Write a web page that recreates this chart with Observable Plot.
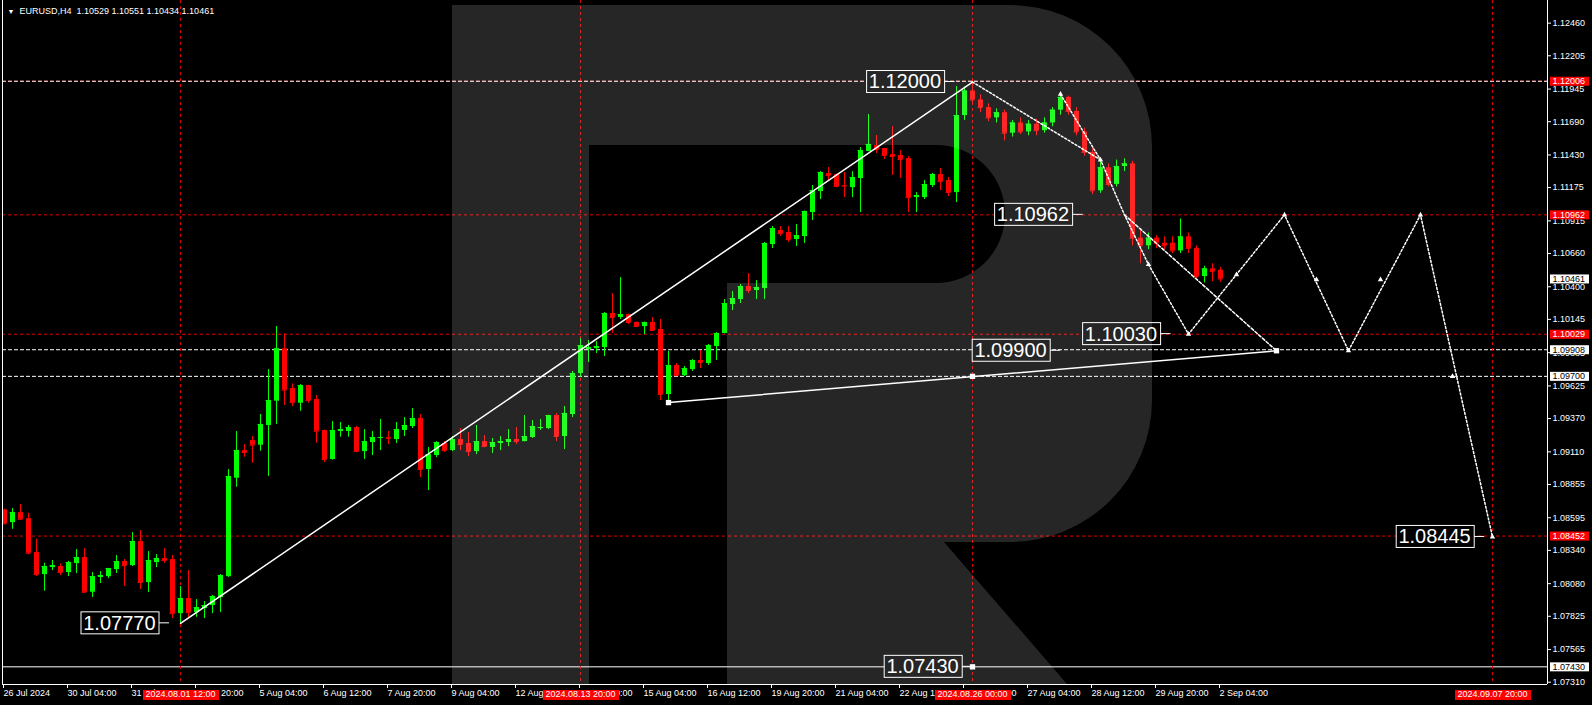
<!DOCTYPE html>
<html><head><meta charset="utf-8">
<script src="https://cdn.jsdelivr.net/npm/d3@7"></script>
<script src="https://cdn.jsdelivr.net/npm/@observablehq/plot@0.6"></script>
<style>
html,body{margin:0;padding:0;background:#000;overflow:hidden;}
#chart svg{display:block}
</style></head><body><div id="chart"></div>
<script>
// ---- candle data (EURUSD H4), index 0 = 26 Jul 2024 20:00 ----
const opens = [
1.08656,1.08557,1.08635,1.08588,1.08323,1.08151,1.08206,1.08214,1.08167,1.08237,
1.08284,1.08013,1.08128,1.08135,1.08190,1.08253,1.08221,1.08409,1.08089,1.08245,
1.08276,1.08268,1.07846,1.07964,1.07854,1.07886,1.07909,1.07972,1.08135,1.08904,
1.09120,1.09198,1.09162,1.09316,1.09506,1.09915,1.09605,1.09490,1.09628,1.09519,
1.09277,1.09050,1.09269,1.09269,1.09300,1.09112,1.09183,1.09216,1.09222,1.09206,
1.09277,1.09308,1.09370,1.08972,1.09081,1.09175,1.09120,1.09206,1.09175,1.09112,
1.09190,1.09144,1.09175,1.09183,1.09206,1.09190,1.09222,1.09292,1.09292,1.09394,
1.09230,1.09402,1.09722,1.09910,1.09917,1.09925,1.10191,1.10160,1.10183,1.10121,
1.10089,1.10121,1.10066,1.09558,1.09785,1.09706,1.09753,1.09824,1.09800,1.09933,
1.10035,1.10261,1.10300,1.10402,1.10371,1.10386,1.10730,1.10840,1.10824,1.10769,
1.10793,1.10980,1.11144,1.11285,1.11277,1.11191,1.11175,1.11246,1.11457,1.11504,
1.11480,1.11433,1.11426,1.11402,1.11097,1.11097,1.11191,1.11277,1.11230,1.11136,
1.11738,1.11930,1.11860,1.11800,1.11720,1.11760,1.11600,1.11680,1.11610,1.11670,
1.11620,1.11680,1.11780,1.11880,1.11770,1.11610,1.11450,1.11150,1.11330,1.11200,
1.11340,1.11360,1.10780,1.10720,1.10780,1.10740,1.10740,1.10680,1.10790,1.10700,
1.10480,1.10540,1.10529];
const highs = [
1.08662,1.08667,1.08698,1.08630,1.08427,1.08240,1.08261,1.08235,1.08255,1.08347,
1.08354,1.08167,1.08174,1.08200,1.08300,1.08268,1.08479,1.08495,1.08331,1.08307,
1.08354,1.08300,1.08057,1.08182,1.07956,1.07940,1.07987,1.08151,1.08972,1.09269,
1.09167,1.09230,1.09402,1.09753,1.10089,1.10032,1.09642,1.09636,1.09630,1.09550,
1.09280,1.09347,1.09339,1.09316,1.09308,1.09284,1.09269,1.09363,1.09269,1.09339,
1.09378,1.09449,1.09402,1.09144,1.09190,1.09190,1.09230,1.09292,1.09261,1.09316,
1.09237,1.09214,1.09230,1.09284,1.09300,1.09394,1.09355,1.09363,1.09396,1.09410,
1.09464,1.09738,1.09995,1.09980,1.09972,1.10199,1.10347,1.10472,1.10186,1.10124,
1.10124,1.10160,1.10144,1.09894,1.09800,1.09777,1.09831,1.09902,1.09949,1.10042,
1.10300,1.10363,1.10418,1.10504,1.10449,1.10746,1.10871,1.10871,1.10871,1.10886,
1.10992,1.11191,1.11300,1.11332,1.11280,1.11293,1.11300,1.11488,1.11746,1.11582,
1.11482,1.11652,1.11465,1.11418,1.11136,1.11230,1.11285,1.11324,1.11254,1.11965,
1.11960,1.12006,1.11900,1.11830,1.11790,1.11780,1.11700,1.11720,1.11700,1.11710,
1.11720,1.11800,1.11905,1.11890,1.11800,1.11640,1.11480,1.11400,1.11360,1.11390,
1.11400,1.11380,1.10850,1.10820,1.10800,1.10790,1.10790,1.10930,1.10820,1.10720,
1.10560,1.10580,1.10551];
const lows = [
1.08545,1.08505,1.08579,1.08307,1.08135,1.08021,1.08182,1.08143,1.08135,1.08159,
1.08010,1.07972,1.08081,1.08120,1.08159,1.08057,1.08214,1.08034,1.08010,1.08206,
1.08237,1.07807,1.07770,1.07815,1.07817,1.07807,1.07846,1.07854,1.08128,1.08833,
1.09068,1.09021,1.09115,1.08919,1.09324,1.09472,1.09464,1.09427,1.09490,1.09177,
1.09026,1.09045,1.09224,1.09224,1.09105,1.09050,1.09081,1.09120,1.09167,1.09175,
1.09230,1.09292,1.08909,1.08808,1.09065,1.09105,1.09112,1.09120,1.09073,1.09089,
1.09144,1.09097,1.09120,1.09151,1.09167,1.09188,1.09214,1.09277,1.09284,1.09190,
1.09128,1.09378,1.09691,1.09808,1.09878,1.09855,1.10035,1.10144,1.10105,1.10086,
1.10027,1.10050,1.09511,1.09490,1.09698,1.09698,1.09738,1.09761,1.09785,1.09824,
1.10032,1.10214,1.10269,1.10347,1.10300,1.10300,1.10699,1.10793,1.10746,1.10715,
1.10738,1.10918,1.11082,1.11230,1.11180,1.11097,1.11097,1.10980,1.11455,1.11441,
1.11394,1.11269,1.11246,1.10980,1.10980,1.11082,1.11175,1.11152,1.11105,1.11058,
1.11700,1.11830,1.11760,1.11690,1.11680,1.11540,1.11570,1.11590,1.11580,1.11580,
1.11600,1.11650,1.11740,1.11740,1.11580,1.11420,1.11120,1.11130,1.11180,1.11180,
1.11300,1.10720,1.10580,1.10690,1.10700,1.10690,1.10660,1.10660,1.10660,1.10460,
1.10430,1.10440,1.10434];
const closes = [
1.08547,1.08635,1.08583,1.08318,1.08151,1.08214,1.08221,1.08167,1.08245,1.08284,
1.08013,1.08135,1.08143,1.08198,1.08253,1.08221,1.08409,1.08089,1.08261,1.08276,
1.08261,1.07846,1.07964,1.07854,1.07893,1.07909,1.07979,1.08143,1.08917,1.09120,
1.09105,1.09162,1.09324,1.09511,1.09915,1.09592,1.09495,1.09628,1.09511,1.09271,
1.09050,1.09277,1.09284,1.09300,1.09112,1.09190,1.09222,1.09222,1.09216,1.09284,
1.09316,1.09370,1.08972,1.09089,1.09183,1.09120,1.09206,1.09167,1.09112,1.09190,
1.09151,1.09183,1.09190,1.09206,1.09190,1.09230,1.09308,1.09300,1.09394,1.09230,
1.09410,1.09722,1.09941,1.09925,1.09933,1.10191,1.10160,1.10183,1.10121,1.10089,
1.10121,1.10058,1.09558,1.09785,1.09706,1.09761,1.09824,1.09808,1.09941,1.10035,
1.10269,1.10308,1.10402,1.10371,1.10394,1.10738,1.10855,1.10816,1.10769,1.10800,
1.10988,1.11152,1.11293,1.11269,1.11183,1.11187,1.11254,1.11465,1.11512,1.11473,
1.11426,1.11418,1.11394,1.11097,1.11113,1.11199,1.11277,1.11222,1.11136,1.11738,
1.11930,1.11860,1.11800,1.11720,1.11760,1.11600,1.11680,1.11610,1.11670,1.11620,
1.11680,1.11780,1.11880,1.11770,1.11610,1.11450,1.11150,1.11330,1.11200,1.11340,
1.11360,1.10780,1.10720,1.10780,1.10740,1.10720,1.10680,1.10790,1.10700,1.10480,
1.10540,1.10520,1.10461];

// ---- axes ----
const xTickIdx = [0,8,16,24,32,40,48,56,64,72,80,88,96,104,112,120,128,136,144,152];
const xTickLabels = ["26 Jul 2024","30 Jul 04:00","31 Jul 12:00","1 Aug 20:00","5 Aug 04:00","6 Aug 12:00",
  "7 Aug 20:00","9 Aug 04:00","12 Aug 12:00","13 Aug 20:00","15 Aug 04:00","16 Aug 12:00","19 Aug 20:00",
  "21 Aug 04:00","22 Aug 12:00","23 Aug 20:00","27 Aug 04:00","28 Aug 12:00","29 Aug 20:00","2 Sep 04:00"];
const yTicks = [1.12460,1.12205,1.11945,1.11690,1.11430,1.11175,1.10915,1.10660,1.10400,1.10145,1.09885,
  1.09625,1.09370,1.09110,1.08855,1.08595,1.08340,1.08080,1.07825,1.07565,1.07310];

// ---- levels and objects ----
const redLevels = [1.12006, 1.10962, 1.10029, 1.08452];
const whiteDashedLevels = [1.12006, 1.09908, 1.09700];
const whiteSolidLevels = [1.07430];
const whiteAxisLabels = [1.10461, 1.09908, 1.09700, 1.07430];
const vLineIdx = [22, 72, 121, 186];
const vLineLabels = ["2024.08.01 12:00","2024.08.13 20:00","2024.08.26 00:00","2024.09.07 20:00"];

const annotText = ["1.12000","1.10962","1.10030","1.09900","1.08445","1.07770","1.07430"];
const annotValue = [1.12000, 1.10962, 1.10030, 1.09900, 1.08445, 1.07770, 1.07430];
const annotIdx = [121.2, 137.2, 148.2, 134.4, 187.4, 23, 123.4];

const trendAIdx = [22, 121], trendAVal = [1.07770, 1.12000];
const trendBIdx = [83, 159], trendBVal = [1.09495, 1.09900];
const fc1Idx = [121, 137], fc1Val = [1.12000, 1.11392];
const fc2Idx = [132, 137, 140, 143, 148, 160, 168, 177, 186];
const fc2Val = [1.11905, 1.11392, 1.10962, 1.10574, 1.10030, 1.10962, 1.09900, 1.10962, 1.08445];
const fc3Idx = [140, 159], fc3Val = [1.10962, 1.09900];
const sqIdx = [83, 121, 121, 159], sqVal = [1.09495, 1.09700, 1.07430, 1.09900];
const arrIdx = [132,137,143,148,154,160,164,168,172,177,181,186];
const arrVal = [1.11905,1.11392,1.10574,1.10030,1.10495,1.10962,1.10455,1.09900,1.10455,1.10962,1.09700,1.08445];

const headerText = "EURUSD,H4  1.10529 1.10551 1.10434 1.10461";

// ---- build ----
const candles = opens.map((o, i) => ({i, o, h: highs[i], l: lows[i], c: closes[i], col: closes[i] >= o ? "#00ff00" : "#ff0000"}));
const pts = (xs, ys) => xs.map((x, k) => ({x, y: ys[k]}));
const LRED = "#e00000";
const FONT = "'Liberation Sans', Arial, sans-serif";

const M_ANN = "#fefefe", M_RED = "#fdfdfd", M_WHT = "#fcfcfc", M_XRED = "#fbfbfb";

const logo = () => {
  const g = d3.create("svg:g");
  g.append("path")
    .attr("d", "M452,5H1010A142,142 0 0 1 1152,147V400A142,142 0 0 1 1010,542H944L1067,684H727V283H936A69,69 0 0 0 1005,214A69,69 0 0 0 936,145H589V684H452Z")
    .attr("fill", "#ffffff").attr("fill-opacity", 0.15);
  return g.node();
};

const plot = Plot.plot({
  width: 1592, height: 705,
  marginLeft: 2, marginRight: 45, marginTop: 0, marginBottom: 21,
  x: {domain: [-0.25, 192.875], axis: null},
  y: {domain: [1.07292, 1.12637], axis: null},
  color: {type: "identity"},
  style: {background: "#000", color: "#fff", fontFamily: FONT, fontSize: "9px", overflow: "visible"},
  marks: [
    Plot.ruleY(redLevels, {y: d => d, stroke: LRED, strokeDasharray: "3,3"}),
    Plot.ruleY(whiteDashedLevels, {y: d => d, stroke: "#fff", strokeDasharray: "4,2"}),
    Plot.ruleY(whiteSolidLevels, {y: d => d, stroke: "#fff"}),
    Plot.ruleX(vLineIdx, {x: d => d, stroke: LRED, strokeDasharray: "3,3"}),
    // candles
    Plot.ruleX(candles, {x: "i", y1: "l", y2: "h", stroke: "col"}),
    Plot.ruleX(candles, {x: "i", y1: "o", y2: "c", stroke: "col", strokeWidth: 5}),
    Plot.ruleY(candles, {y: "c", x1: d => d.i - 0.3125, x2: d => d.i + 0.3125, stroke: "col"}),
    // trend lines
    Plot.line(pts(trendAIdx, trendAVal), {x: "x", y: "y", stroke: "#fff"}),
    Plot.line(pts(trendBIdx, trendBVal), {x: "x", y: "y", stroke: "#fff"}),
    Plot.line(pts(fc1Idx, fc1Val), {x: "x", y: "y", stroke: "#fff", strokeDasharray: "2,2"}),
    Plot.line(pts(fc2Idx, fc2Val), {x: "x", y: "y", stroke: "#fff", strokeDasharray: "2,2"}),
    Plot.line(pts(fc3Idx, fc3Val), {x: "x", y: "y", stroke: "#fff", strokeDasharray: "3,2"}),
    Plot.dot(pts(arrIdx, arrVal), {x: "x", y: "y", r: 2, symbol: "triangle", fill: "#fff"}),
    Plot.dot(pts(sqIdx, sqVal), {x: "x", y: "y", r: 3, symbol: "square", fill: "#fff"}),
    // annotation boxes
    Plot.text(annotText, {x: (d, k) => annotIdx[k], y: (d, k) => annotValue[k], text: d => d,
      textAnchor: "end", lineAnchor: "middle", dx: -33, fontSize: 20, fill: M_ANN}),
    // frame
    Plot.ruleX([-0.25, 192.875], {x: d => d, stroke: "#fff"}),
    Plot.ruleY([1.07292], {y: d => d, stroke: "#fff"}),
    // axes
    Plot.axisY({anchor: "right", ticks: yTicks, tickFormat: d => d.toFixed(5), tickSize: 3, tickPadding: 2,
      stroke: "#fff", fill: "#fff", fontSize: 9}),
    Plot.axisX({anchor: "bottom", ticks: xTickIdx, tickFormat: d => xTickLabels[xTickIdx.indexOf(d)],
      tickSize: 4, tickPadding: 1, textAnchor: "start", dx: -1, stroke: "#fff", fill: "#fff", fontSize: 9}),
    // axis value labels
    Plot.text(redLevels, {y: d => d, text: d => d.toFixed(5), frameAnchor: "right", dx: 5,
      textAnchor: "start", lineAnchor: "middle", fill: M_RED, fontSize: 9}),
    Plot.text(whiteAxisLabels, {y: d => d, text: d => d.toFixed(5), frameAnchor: "right", dx: 5,
      textAnchor: "start", lineAnchor: "middle", fill: M_WHT, fontSize: 9}),
    Plot.text(vLineIdx, {x: d => d, text: (d, k) => vLineLabels[k], frameAnchor: "bottom", dy: 10,
      lineAnchor: "middle", fill: M_XRED, fontSize: 9}),
    // header
    Plot.text([headerText], {frameAnchor: "top-left", dx: 17, dy: 11, text: d => d, textAnchor: "start",
      lineAnchor: "middle", fill: "#fff", fontSize: 9}),
    Plot.text(["\u25BC"], {frameAnchor: "top-left", dx: 5, dy: 11, text: d => d, textAnchor: "start",
      lineAnchor: "middle", fill: "#fff", fontSize: 7}),
    // watermark
    logo
  ]
});
document.getElementById("chart").append(plot);

const NS = "http://www.w3.org/2000/svg";
function boxify(marker, {fill, stroke, textFill, padX, padY, connector}) {
  plot.querySelectorAll(`g[fill="${marker}"]`).forEach(g => {
    g.setAttribute("fill", textFill);
    g.querySelectorAll("text").forEach(t => {
      const b = t.getBBox();
      const r = document.createElementNS(NS, "rect");
      r.setAttribute("x", Math.round(b.x - padX) + 0.5);
      r.setAttribute("y", Math.round(b.y - padY) + 0.5);
      r.setAttribute("width", Math.round(b.width + 2 * padX));
      r.setAttribute("height", Math.round(b.height + 2 * padY));
      r.setAttribute("fill", fill);
      r.setAttribute("stroke", stroke || "none");
      const tr = t.getAttribute("transform");
      if (tr) r.setAttribute("transform", tr);
      g.insertBefore(r, t);
      if (connector) {
        const l = document.createElementNS(NS, "line");
        const x0 = Math.round(b.x + b.width + padX) + 0.5;
        const yc = Math.round(b.y + b.height / 2) + 0.5;
        l.setAttribute("x1", x0); l.setAttribute("x2", x0 + connector);
        l.setAttribute("y1", yc); l.setAttribute("y2", yc);
        l.setAttribute("stroke", "#fff");
        if (tr) l.setAttribute("transform", tr);
        g.insertBefore(l, t);
      }
    });
  });
}
boxify(M_ANN, {fill: "#000", stroke: "#fff", textFill: "#fff", padX: 3, padY: 0, connector: 10});
boxify(M_RED, {fill: "#ff0000", textFill: "#fff", padX: 3, padY: -0.5});
boxify(M_WHT, {fill: "#fff", textFill: "#000", padX: 3, padY: -0.5});
boxify(M_XRED, {fill: "#ff0000", textFill: "#fff", padX: 3, padY: 0});
</script></body></html>
